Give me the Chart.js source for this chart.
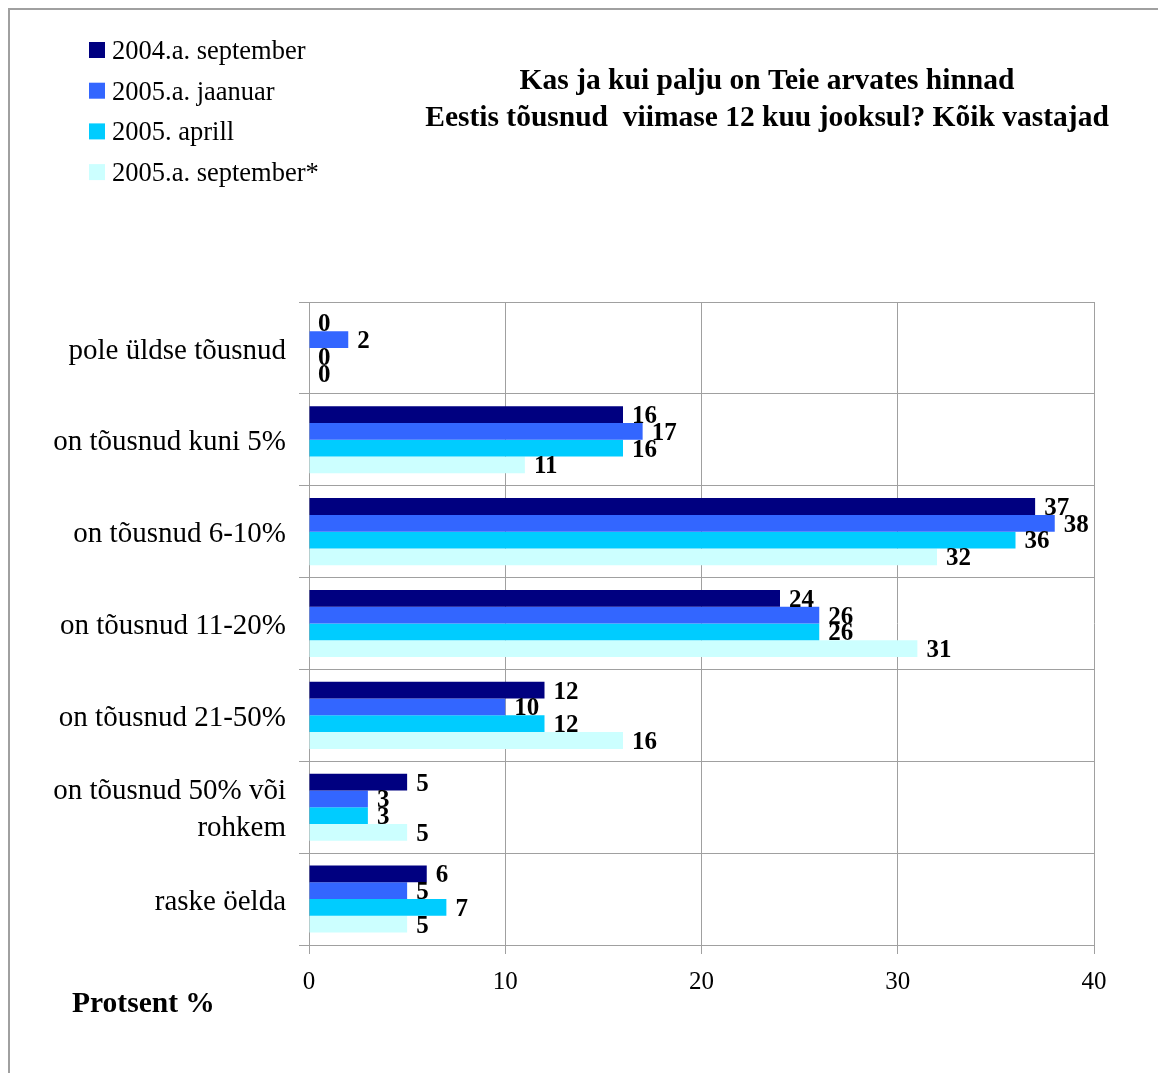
<!DOCTYPE html>
<html>
<head>
<meta charset="utf-8">
<script src="https://cdn.jsdelivr.net/npm/chart.js@4.4.0/dist/chart.umd.min.js"></script>
<style>
  html, body { margin: 0; padding: 0; background: #fff; overflow: hidden; }
  #wrap { position: relative; width: 1158px; height: 1073px; }
  #frame { position: absolute; left: 8px; top: 8px; width: 1300px; height: 1300px; border: 2px solid #a0a0a0; }
  #chart { position: absolute; left: 0; top: 0; }
</style>
</head>
<body>
<div id="wrap">
  <div id="frame"></div>
  <canvas id="chart" width="1158" height="1073"></canvas>
</div>
<script>
// kategooriad (y-telg)
const categories = [
  'pole üldse tõusnud',
  'on tõusnud kuni 5%',
  'on tõusnud 6-10%',
  'on tõusnud 11-20%',
  'on tõusnud 21-50%',
  ['on tõusnud 50% või', 'rohkem'],
  'raske öelda'
];
// seeriate nimed
const seriesNames = ['2004.a. september', '2005.a. jaanuar', '2005. aprill', '2005.a. september*'];
// väärtused (%)
const sep2004 = [0, 16, 37, 24, 12, 5, 6];
const jan2005 = [2, 17, 38, 26, 10, 3, 5];
const apr2005 = [0, 16, 36, 26, 12, 3, 7];
const sep2005 = [0, 11, 32, 31, 16, 5, 5];
// x-telje jaotised
const xTicks = [0, 10, 20, 30, 40];

const colors = ['#000080', '#3366FF', '#00CCFF', '#CCFFFF'];
const serif = '"Liberation Serif", "Times New Roman", serif';
const titleLines = ['Kas ja kui palju on Teie arvates hinnad', 'Eestis tõusnud  viimase 12 kuu jooksul? Kõik vastajad'];

// pealkiri, legend, telje nimi ja väärtused tulpade otsas
const extras = {
  id: 'extras',
  afterDraw(chart) {
    const ctx = chart.ctx;
    ctx.save();
    // pealkiri
    ctx.fillStyle = '#000';
    ctx.font = 'bold 29.5px ' + serif;
    ctx.textAlign = 'center';
    ctx.textBaseline = 'middle';
    ctx.fillText(titleLines[0], 767, 81);
    ctx.fillText(titleLines[1], 767, 118);
    // legend
    ctx.font = '26.5px ' + serif;
    ctx.textAlign = 'left';
    seriesNames.forEach((name, i) => {
      const y = 50 + i * 40.7;
      ctx.fillStyle = colors[i];
      ctx.fillRect(89, y - 8, 16, 16);
      ctx.fillStyle = '#000';
      ctx.fillText(name, 112, y + 2);
    });
    // telje nimi
    ctx.font = 'bold 29.5px ' + serif;
    ctx.fillText('Protsent %', 72, 1004);
    // väärtused
    ctx.font = 'bold 25px ' + serif;
    chart.data.datasets.forEach((ds, i) => {
      const meta = chart.getDatasetMeta(i);
      meta.data.forEach((bar, j) => {
        ctx.fillText(String(ds.data[j]), bar.x + 9, bar.y + 2);
      });
    });
    ctx.restore();
  }
};

const ctx = document.getElementById('chart').getContext('2d');
new Chart(ctx, {
  type: 'bar',
  data: {
    labels: categories,
    datasets: [sep2004, jan2005, apr2005, sep2005].map((d, i) => ({
      label: seriesNames[i],
      data: d,
      backgroundColor: colors[i],
      borderWidth: 0,
      categoryPercentage: 0.73,
      barPercentage: 1
    }))
  },
  options: {
    indexAxis: 'y',
    responsive: false,
    animation: false,
    layout: { padding: { left: 0, top: 302, right: 64, bottom: 68 } },
    plugins: {
      legend: { display: false },
      title: { display: false },
      tooltip: { enabled: false }
    },
    scales: {
      x: {
        min: 0,
        max: 40,
        afterFit: (s) => { s.height = 60; },
        afterBuildTicks: (s) => { s.ticks = xTicks.map(v => ({ value: v })); },
        grid: { color: '#a0a0a0', lineWidth: 1, tickLength: 9 },
        border: { color: '#a0a0a0' },
        ticks: { color: '#000', font: { family: serif, size: 25 }, padding: 13 }
      },
      y: {
        afterFit: (s) => { s.width = 309; },
        grid: { color: '#a0a0a0', lineWidth: 1, tickLength: 10, offset: true },
        border: { color: '#a0a0a0' },
        ticks: { color: '#000', font: { family: serif, size: 29, lineHeight: 1.28 }, padding: 13, labelOffset: 3 }
      }
    }
  },
  plugins: [extras]
});
</script>
</body>
</html>
